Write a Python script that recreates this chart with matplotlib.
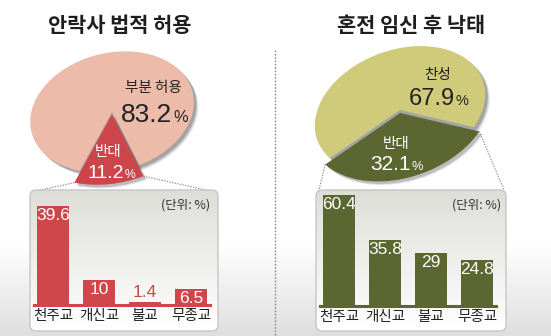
import matplotlib.pyplot as plt
import numpy as np
from matplotlib import font_manager
from matplotlib.patches import Ellipse, FancyBboxPatch, Wedge
from matplotlib.transforms import Affine2D

W, H = 551, 336

# left panel: legal permission of euthanasia
left_title = "안락사 법적 허용"
left_pie_labels = ["부분 허용", "반대"]
left_pie_values = [83.2, 11.2]
left_categories = ["천주교", "개신교", "불교", "무종교"]
left_bar_values = [39.6, 10, 1.4, 6.5]

# right panel: abortion after premarital pregnancy
right_title = "혼전 임신 후 낙태"
right_pie_labels = ["찬성", "반대"]
right_pie_values = [67.9, 32.1]
right_categories = ["천주교", "개신교", "불교", "무종교"]
right_bar_values = [60.4, 35.8, 29, 24.8]

unit_label = "(단위: %)"

KR = "Noto Sans CJK KR"
try:
    font_manager.findfont("Liberation Sans Narrow", fallback_to_default=False)
    NUM = "Liberation Sans Narrow"
except ValueError:
    NUM = "Liberation Sans"


def up(y):
    # image row -> axes y (origin at bottom)
    return H - y


def draw_pie(ax, values, labels, colors, txt_colors, cx, cy, a, b, rot, mid_small,
             explode, pop, label_xy, num_xy, num_size):
    spans = np.array(values) / np.sum(values) * 360
    t0 = mid_small + spans[1] / 2
    starts = [t0, t0 + spans[0]]
    center = (cx, up(cy))

    # soft shadow under the ellipse
    for k, al in [(4.5, 0.12), (3.5, 0.18), (2.5, 0.25)]:
        ax.add_patch(Ellipse((cx + k, up(cy) - k), 2 * a, 2 * b, angle=rot,
                             facecolor="#3a3a3a", alpha=al, edgecolor="none"))

    ax.add_patch(Wedge((0, 0), 1, starts[0], starts[0] + spans[0],
                       facecolor=colors[0], edgecolor="none",
                       transform=Affine2D().scale(a, b).rotate_deg(rot)
                       .translate(*center) + ax.transData))

    # small slice pulled out and enlarged a little, with its own shadow
    st, sp = starts[1], spans[1]
    m = np.radians(st + sp / 2)
    off = (explode * np.cos(m), explode * np.sin(m))
    base = (Affine2D().translate(*off).scale(a, b).rotate_deg(rot)
            .translate(*center))
    for k, al in [(3.5, 0.15), (2.5, 0.22)]:
        ax.add_patch(Wedge((0, 0), pop, st, st + sp, facecolor="#3a3a3a", alpha=al,
                           edgecolor="none",
                           transform=base + Affine2D().translate(k, -k) + ax.transData))
    ax.add_patch(Wedge((0, 0), pop, st, st + sp, facecolor=colors[1], edgecolor="none",
                       transform=base + ax.transData))
    edges = [base.transform((pop * np.cos(np.radians(t)), pop * np.sin(np.radians(t))))
             for t in (st, st + sp)]

    for i in range(2):
        lx, ly = label_xy[i]
        ax.text(lx, up(ly), labels[i], ha="center", va="center", fontsize=10.5,
                family=[KR], color=txt_colors[i])
        nx, ny = num_xy[i]
        ax.text(nx, up(ny), f"{values[i]:.1f}", ha="right", va="baseline",
                fontsize=num_size[i], family=NUM, color=txt_colors[i])
        ax.text(nx + 0.5, up(ny), "%", ha="left", va="baseline",
                fontsize=num_size[i] * 0.62, family=NUM, color=txt_colors[i])
    return edges


def draw_box(ax, x0, x1, y0, y1):
    box = FancyBboxPatch((x0, up(y1)), x1 - x0, y1 - y0,
                         boxstyle="round,pad=0,rounding_size=6",
                         facecolor="none", edgecolor="#c6c6c6", lw=1.0, zorder=3)
    ax.add_patch(box)
    g = np.linspace(0, 1, 100)[:, None]
    top = np.array([0.87, 0.87, 0.85])
    bot = np.array([1.0, 1.0, 1.0])
    img = top + (bot - top) * g[..., None]
    im = ax.imshow(img, extent=[x0, x1, up(y1), up(y0)], origin="upper",
                   aspect="auto", zorder=2)
    im.set_clip_path(box)


def draw_bars(fig, values, categories, color, left_px, base_px, ymax):
    bx = fig.add_axes([left_px / W, up(base_px) / H, 176.6 / W, 115 / H])
    bx.set_facecolor("none")
    x = np.arange(len(values))
    bx.bar(x, values, width=0.69, color=color, zorder=2)
    bx.axhline(0, color=color, lw=2.2, clip_on=False, zorder=3)
    bx.set_xlim(-0.42, 3.42)
    bx.set_ylim(0, ymax)
    for s in bx.spines.values():
        s.set_visible(False)
    bx.set_yticks([])
    bx.set_xticks(x, categories)
    bx.tick_params(axis="x", length=0, pad=3, labelsize=10.5, labelcolor="#222222")
    for lab in bx.get_xticklabels():
        lab.set_family([KR])
    for xi, v in zip(x, values):
        if v / ymax * 115 < 14:
            bx.annotate(f"{v:g}", (xi, v), xytext=(0, 1), textcoords="offset points",
                        ha="center", va="bottom", color=color, fontsize=12.5, family=NUM)
        else:
            bx.annotate(f"{v:g}", (xi, v), xytext=(0, -1.5), textcoords="offset points",
                        ha="center", va="top", color="white", fontsize=12.5, family=NUM)


fig = plt.figure(figsize=(W / 100, H / 100), dpi=100)
ax = fig.add_axes([0, 0, 1, 1])
ax.set_xlim(0, W)
ax.set_ylim(0, H)
ax.axis("off")

# page background: white fading to light grey at the bottom
rows = np.arange(H)
shade = np.where(rows < 245, 1.0, 1.0 - 0.13 * (rows - 245) / (H - 245))
bg = np.repeat(shade[:, None, None], 3, axis=2)
ax.imshow(bg, extent=[0, W, 0, H], origin="upper", aspect="auto", zorder=0)

# separator
ax.plot([275, 275], [up(50), 0], color="#8a8a8a", lw=1.0, ls=(0, (1.2, 1.2)), zorder=1)

# titles
ax.text(120, up(25), left_title, ha="center", va="center", fontsize=15,
        fontweight="bold", family=[KR], color="#1e1e1e")
ax.text(411, up(25), right_title, ha="center", va="center", fontsize=15,
        fontweight="bold", family=[KR], color="#1e1e1e")

# boxes
draw_box(ax, 30, 218, 190, 331)
draw_box(ax, 316, 506, 190, 331)

# pies
le = draw_pie(ax, left_pie_values, left_pie_labels, ["#edbbaa", "#cd454a"],
              ["#222222", "white"], 112, 112, 83, 59, 14, 258, 0.04, 1.16,
              [(153, 88), (108, 152)], [(172.5, 122), (124, 178)], [19, 14])
re = draw_pie(ax, right_pie_values, right_pie_labels, ["#d0ca7b", "#5b6631"],
              ["#222222", "white"], 400, 110, 88, 60, 20, 258.5, 0.05, 1.07,
              [(438, 75), (396, 144)], [(454.5, 105), (411, 170)], [17, 15])

# connector lines from the small slice to the box
dot = dict(color="#8a8a8a", lw=0.8, ls=(0, (1.2, 1.2)), zorder=1)
ax.plot([le[0][0], 40], [le[0][1], up(190)], **dot)
ax.plot([le[1][0], 206], [le[1][1], up(190)], **dot)
ax.plot([re[0][0], 319], [re[0][1], up(190)], **dot)
ax.plot([re[1][0], 504], [re[1][1], up(190)], **dot)

# unit labels
ax.text(210, up(205), unit_label, ha="right", va="center", fontsize=9,
        family=[KR], color="#333333", zorder=4)
ax.text(501, up(205), unit_label, ha="right", va="center", fontsize=9,
        family=[KR], color="#333333", zorder=4)

# bar charts
draw_bars(fig, left_bar_values, left_categories, "#cf474b", 33.7, 305, 115 / 2.5)
draw_bars(fig, right_bar_values, right_categories, "#5b6631", 319.7, 306, 115 / 1.84)

fig.savefig("out.png", dpi=100)
